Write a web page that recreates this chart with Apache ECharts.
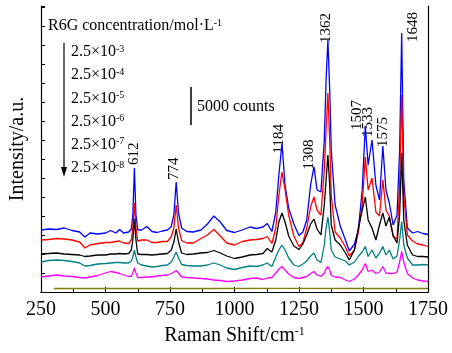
<!DOCTYPE html>
<html><head><meta charset="utf-8">
<script src="https://cdn.jsdelivr.net/npm/echarts@6/dist/echarts.min.js"></script>
<style>html,body{margin:0;padding:0;background:#fff}#c{width:452px;height:353px}</style>
</head><body><div id="c"></div>
<script>
// Raman shift grid (cm^-1)
const ramanShift = [250,280,310,340,370,400,420,440,470,500,
520,540,555,570,590,600,606,612,618,625,
640,660,680,700,720,740,755,765,774,783,
795,815,840,870,895,920,945,970,1000,1030,
1060,1085,1110,1127,1145,1160,1172,1184,1196,1210,
1230,1250,1265,1280,1295,1308,1320,1335,1348,1355,
1362,1369,1375,1390,1410,1430,1445,1465,1480,1495,
1507,1518,1533,1548,1562,1575,1587,1600,1615,1630,
1640,1648,1656,1670,1690,1710,1730,1750];

// Intensity (a.u., offset spectra)
const conc_2_5e3 = [62,63,62.5,64,61.5,60,55,59,58,59,
61.5,59,62.5,59,60,63,77,124,77,62,
62,65.5,60.5,59.5,61,62,65.5,77,110,79,
64,60.5,60,62,68,76,70,61.5,59.5,62,
65,63.5,65,68.5,60.5,80,117,148.5,107,84,
68,56.5,60,72,107,125.5,102,100,152,212,
252,202,142,87,66,52,41,48,62,102,
166,127,152,107,92,146,102,89,67,77,
142,259,112,64,59,60.5,58.5,57.5];

const conc_2_5e4 = [52,52.5,53.5,53,52,50,44,47,48.5,49.5,
49.5,50.5,51,49,48.5,52,64,89,64,51,
52,52,49.5,49.5,50.5,50.5,55.5,64,87,64,
51.5,49,49,53.5,57,62.5,56,49,47,50.5,
52,52.5,53.5,55.5,48.5,64,97,120,102,77,
56,45.5,49,64,85,95,82,77,122,162,
199,152,97,60,54,45,36,42,60,87,
135,102,114,80,76,112,82,76,56,53,
107,197,97,57,51,48,47,45.5];

const conc_2_5e5 = [38,38.5,39,38,37.5,37,35.5,36,37,37,
38,38,38.5,38,38.5,42,52,73,52,38,
37.5,37.5,37,37.5,38,38.5,42,50,63,50,
39,37.5,38,39,39.5,41.5,39,36,33.5,35,
37,37.5,38.5,43.5,40,52,70,79,70,56,
46,42.5,48,57,68,73,63,57,87,112,
137,107,67,52,47,39,32,42,64,82,
95,72,64,52,67,79,66,75,56,49,
77,139,72,47,37,35.5,35.5,35];

const conc_2_5e6 = [30,31.5,32,31.5,30.5,29,26,26.5,28,28.5,
29,29.5,29.5,29,29,31,35,42,35,29,
27,26,25,25.5,26.5,27,30,35,40,34,
27.5,26.5,26,26,27,29,27,24,22.5,24.5,
26,25.5,27,29,25.5,35,42,47,42,34,
27,25.5,28,31,36,39,32,29.5,47,64,
75,60,42,35,33,31,27,30,35.5,40,
45.5,35.5,42,34,39,45.5,37,42,33,36,
52,70.5,47,34,27,27,27.5,27];

const conc_2_5e7 = [15,16,17,16,15.5,14.5,14,15,16.5,19,
20.5,19.5,18.5,17,15.5,16,19,24,19,14.5,
14.5,15,15,16,16.5,17,18.5,20,21.5,19,
15,14.5,14,13.5,13,12,11.5,10.5,11,12,
13.5,14,12.5,14,14.5,19,23,25.5,22,18,
14.5,13.5,14.5,15.5,18.5,20.5,17,15.5,19,23,
25.5,22,16.5,15,14.5,12,10.5,13,17,22,
28.5,20.5,22,18.5,20,25.5,19,18.5,18.5,20,
30,40.5,30,18.5,14,12,11,10.5];

const ramanShift_2_5e8 = [300,600,900,1200,1500,1750];
const conc_2_5e8 = [3.5,3.6,3.5,3.6,3.5,3.5];

const peakPositions = [612,774,1184,1308,1362,1507,1533,1575,1648];
const concentrationExponents = ['-3','-4','-5','-6','-7','-8'];
const xTickValues = [250,500,750,1000,1250,1500,1750];

const FONT = 'Liberation Serif, "Times New Roman", serif';
const colors = ['#0000ff','#ff0000','#000000','#008080','#ff00ff','#808000'];

const pair = (xs, ys) => xs.map((x, i) => [x, ys[i]]);
const seriesData = [
  pair(ramanShift, conc_2_5e3),
  pair(ramanShift, conc_2_5e4),
  pair(ramanShift, conc_2_5e5),
  pair(ramanShift, conc_2_5e6),
  pair(ramanShift, conc_2_5e7),
  pair(ramanShift_2_5e8, conc_2_5e8)
];

const chart = echarts.init(document.getElementById('c'), null, {renderer: 'canvas'});

const option = {
  animation: false,
  backgroundColor: '#fff',
  grid: {left: 39, right: 24, top: 6, bottom: 61},
  xAxis: [{
    type: 'value', min: xTickValues[0], max: xTickValues[xTickValues.length-1], interval: 250,
    axisLine: {show: true, lineStyle: {color: '#000', width: 1.2}},
    axisTick: {show: true, inside: true, length: 5, lineStyle: {color: '#000'}},
    minorTick: {show: true, splitNumber: 2, length: 3, lineStyle: {color: '#000'}},
    axisLabel: {fontFamily: FONT, fontSize: 20, color: '#000', margin: 8, formatter: v => String(v)},
    splitLine: {show: false},
    name: 'Raman Shift/cm{sup|-1}', nameLocation: 'middle', nameGap: 34,
    nameTextStyle: {fontFamily: FONT, fontSize: 20, color: '#000',
      rich: {sup: {fontFamily: FONT, fontSize: 12, verticalAlign: 'top', color: '#000'}}}
  }, {
    type: 'value', position: 'top', min: 250, max: 1750,
    axisLine: {show: true, lineStyle: {color: '#000', width: 1.2}},
    axisTick: {show: false}, axisLabel: {show: false}, splitLine: {show: false}
  }],
  yAxis: [{
    type: 'value', min: 0, max: 286, interval: 19,
    axisLine: {show: true, lineStyle: {color: '#000', width: 1.2}},
    axisTick: {show: true, inside: true, length: 4, lineStyle: {color: '#000'}},
    axisLabel: {show: false}, splitLine: {show: false},
    name: 'Intensity/a.u.', nameLocation: 'middle', nameGap: 13,
    nameTextStyle: {fontFamily: FONT, fontSize: 20, color: '#000'}
  }, {
    type: 'value', position: 'right', min: 0, max: 286,
    axisLine: {show: true, lineStyle: {color: '#000', width: 1.2}},
    axisTick: {show: false}, axisLabel: {show: false}, splitLine: {show: false}
  }],
  series: seriesData.map((d, i) => ({
    type: 'line', data: d, showSymbol: false, symbol: 'none',
    lineStyle: {color: colors[i], width: 1.3}, itemStyle: {color: colors[i]},
    z: 2 + i
  }))
};
chart.setOption(option);

// Annotations
const g = [];
g.push({type: 'text', x: 48, y: 26, style: {text: 'R6G concentration/mol·L{sup|-1}', fontFamily: FONT, fontSize: 16, fill: '#000', verticalAlign: 'middle', align: 'left',
  rich: {sup: {fontFamily: FONT, fontSize: 10, verticalAlign: 'top', fill: '#000'}}}});
concentrationExponents.forEach((e, i) => {
  g.push({type: 'text', x: 71, y: 52 + i * 23.2, style: {text: '2.5×10{sup|' + e + '}', fontFamily: FONT, fontSize: 16, fill: '#000', verticalAlign: 'middle', align: 'left',
    rich: {sup: {fontFamily: FONT, fontSize: 10, verticalAlign: 'top', fill: '#000'}}}});
});
g.push({type: 'line', shape: {x1: 64, y1: 43, x2: 64, y2: 170}, style: {stroke: '#000', lineWidth: 1.2}});
g.push({type: 'polygon', shape: {points: [[61, 167], [67, 167], [64, 177]]}, style: {fill: '#000'}});
g.push({type: 'line', shape: {x1: 191, y1: 87, x2: 191, y2: 125}, style: {stroke: '#000', lineWidth: 1.5}});
g.push({type: 'text', x: 197, y: 107, style: {text: '5000 counts', fontFamily: FONT, fontSize: 16, fill: '#000', verticalAlign: 'middle', align: 'left'}});

const labelShift = [[0,-3],[-2,-2],[-3,10],[-5,3],[-2,3],[-8,4],[-4,-3],[0,1],[11,9]];
peakPositions.forEach((p, i) => {
  const idx = ramanShift.indexOf(p);
  const pt = chart.convertToPixel({xAxisIndex: 0, yAxisIndex: 0}, [p, conc_2_5e3[idx]]);
  g.push({type: 'text', x: pt[0] + labelShift[i][0], y: pt[1] + labelShift[i][1], rotation: Math.PI / 2,
    style: {text: String(p), fontFamily: FONT, fontSize: 15, fill: '#000', align: 'left', verticalAlign: 'middle'}});
});
chart.setOption({graphic: {elements: g}});
</script>
</body></html>
